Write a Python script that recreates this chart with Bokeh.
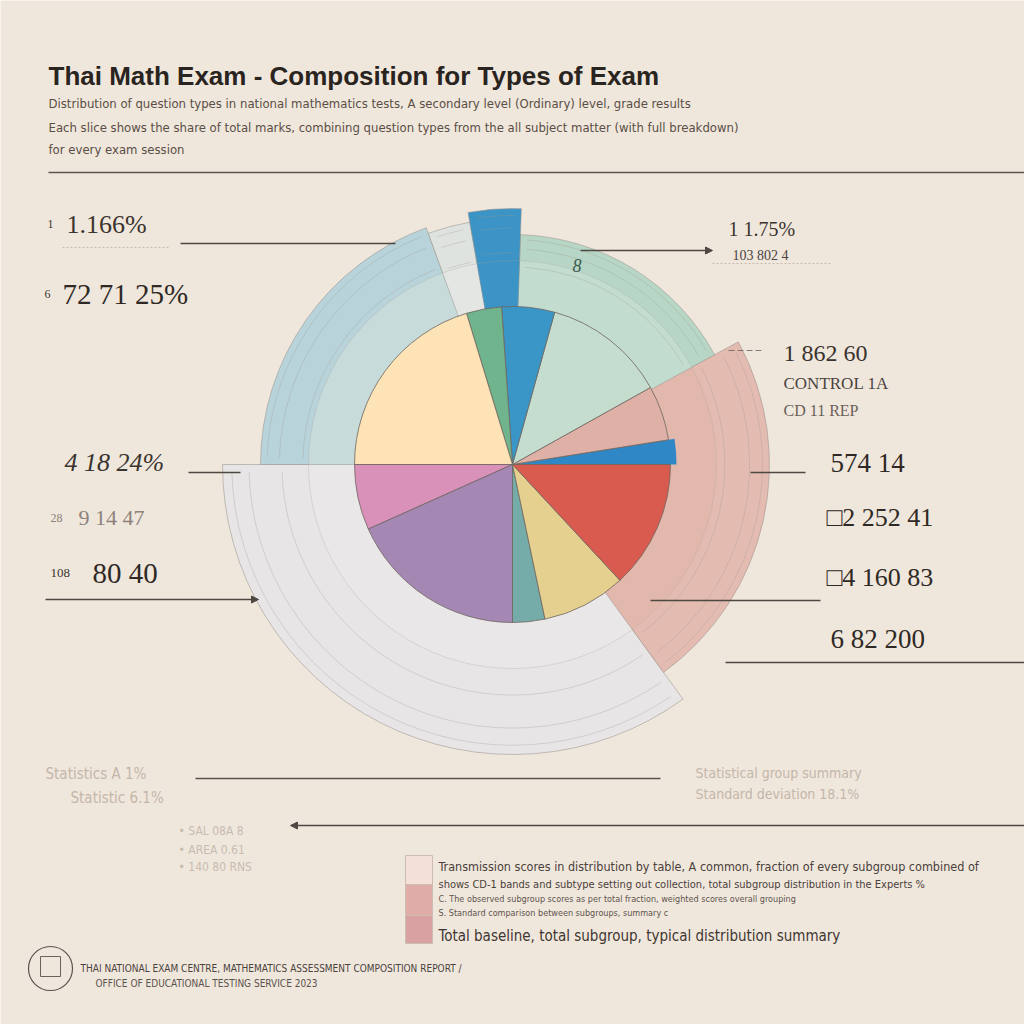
import numpy as np
from bokeh.plotting import figure
from bokeh.models import Range1d, Arrow, NormalHead
from bokeh.core.properties import value
from bokeh.embed import file_html
from bokeh.resources import INLINE

# ---------------- data ----------------
title_text = "Thai Math Exam - Composition for Types of Exam"
subtitle_lines = [
    "Distribution of question types in national mathematics tests, A secondary level (Ordinary) level, grade results",
    "Each slice shows the share of total marks, combining question types from the all subject matter (with full breakdown)",
    "for every exam session",
]

inner_types = ["Vectors", "Ratio", "Algebra", "Number", "Logic", "Geometry",
               "Sets", "Functions", "Sequences", "Probability", "Calculus"]
inner_share = [2.5, 5.6, 12.6, 5.4, 3.6, 20.3, 6.7, 18.3, 3.3, 8.6, 13.1]
inner_colors = ["#2f87c6", "#dfb0a6", "#c4ddcf", "#3a96c6", "#6fb48c", "#fde3b5",
                "#d990b9", "#a487b3", "#75aba8", "#e6d08f", "#d95b4f"]

outer_groups = ["Part D", "Part A", "Part B", "Part C", "Part E", "Part F"]
outer_share = [22.92, 16.53, 3.33, 2.78, 19.44, 35.0]
outer_colors = ["#e4bbb0", "#b7d6c6", "#3b94c5", "#dfe3df", "#b9d3da", "#e8e5e6"]
outer_inner_colors = ["#e2b7ac", "#c2dccf", "#3b94c5", "#e3e6e2", "#c7dbdb", "#e9e7e8"]
outer_start_deg = -54.0

left_labels = ["1.166%", "72 71 25%", "4 18 24%", "9 14 47", "80 40"]
left_small = ["1", "6", "", "28", "108"]
right_labels = ["1 1.75%", "1 862 60", "574 14", "2 252 41", "4 160 83", "6 82 200"]
right_sub = ["103 802 4", "CONTROL 1A", "CD 11 REP"]
bottom_notes = ["Statistics A 1%", "Statistic 6.1%"]
bottom_right_notes = ["Statistical group summary", "Standard deviation 18.1%"]
bottom_small = ["• SAL 08A  8", "• AREA 0.61", "• 140 80 RNS"]
legend_lines = [
    "Transmission  scores in distribution by table, A common, fraction of every subgroup combined  of",
    "shows CD-1 bands and subtype setting out collection, total subgroup distribution in the Experts %",
    "C. The  observed subgroup scores as per total fraction, weighted scores overall grouping",
    "S. Standard comparison between subgroups, summary  c",
    "Total baseline, total subgroup, typical distribution summary",
]
legend_colors = ["#f3e0d6", "#dfaca8", "#d9a2a2"]
footer_lines = ["THAI NATIONAL EXAM CENTRE, MATHEMATICS ASSESSMENT COMPOSITION REPORT /",
                "OFFICE OF EDUCATIONAL TESTING SERVICE 2023"]

# ---------------- figure ----------------
W = H = 1024
BG = "#f0e7dc"
p = figure(width=W, height=H, x_range=Range1d(0, W), y_range=Range1d(0, H),
           output_backend="svg", toolbar_location=None, min_border=0,
           background_fill_color=BG, border_fill_color=BG, outline_line_color=None)
p.axis.visible = False
p.grid.visible = False


def X(px):
    return px


def Y(py):
    return H - py


def txt(px, py, s, size, color="#2f2925", font="Liberation Sans", style="normal",
        align="left", alpha=1.0):
    p.text(x=[X(px)], y=[Y(py)], text=[s], text_font=value(font),
           text_font_size=value(f"{size}px"), text_color=color, text_alpha=alpha,
           text_font_style=style, text_align=align, text_baseline="middle")


def hline(x0, x1, py, color="#5a524c", width=1.3, alpha=1.0, dash="solid"):
    p.segment(x0=[X(x0)], y0=[Y(py)], x1=[X(x1)], y1=[Y(py)], line_color=color,
              line_width=width, line_alpha=alpha, line_dash=dash)


cx, cy = X(512), Y(464)
R_IN = 158

# outer ring
outer_radii = [257, 230, 256, 246, 252, 290]
spans = np.array(outer_share) / 100.0 * 2 * np.pi
starts = np.deg2rad(outer_start_deg) + np.concatenate([[0], np.cumsum(spans)[:-1]])
ends = starts + spans
order = [5, 0, 4, 3, 1, 2]
for i in order:
    p.annular_wedge(x=[cx], y=[cy], inner_radius=R_IN - 2, outer_radius=outer_radii[i],
                    start_angle=[starts[i]], end_angle=[ends[i]],
                    fill_color=outer_colors[i], line_color="#9b9590", line_width=0.8,
                    line_alpha=0.7)
    # lighter inner band
    p.annular_wedge(x=[cx], y=[cy], inner_radius=R_IN - 2, outer_radius=R_IN + 46,
                    start_angle=[starts[i]], end_angle=[ends[i]],
                    fill_color=outer_inner_colors[i], line_color="#a9a4a0", line_width=0.6,
                    line_alpha=0.5)
    # nested guide arcs
    for frac in (0.55, 0.8, 0.93):
        r = R_IN + frac * (outer_radii[i] - R_IN)
        p.arc(x=[cx], y=[cy], radius=r, start_angle=[starts[i] + 0.03], end_angle=[ends[i] - 0.03],
              line_color="#9d9894", line_width=0.7, line_alpha=0.45)

# inner pie
ispan = np.array(inner_share) / 100.0 * 2 * np.pi
istart = np.concatenate([[0], np.cumsum(ispan)[:-1]])
iend = istart + ispan
p.wedge(x=[cx] * len(inner_share), y=[cy] * len(inner_share), radius=R_IN,
        start_angle=istart, end_angle=iend, fill_color=inner_colors,
        line_color="#6e6660", line_width=0.8)
# extend the thin blue slice to the ring edge
p.annular_wedge(x=[cx], y=[cy], inner_radius=R_IN - 1, outer_radius=R_IN + 6,
                start_angle=[istart[0]], end_angle=[iend[0]], fill_color=inner_colors[0],
                line_color=None)

# ---------------- text ----------------
txt(48, 75, title_text, 26, "#2a2420", "Liberation Sans", "bold")
sub_y = [103, 127, 149]
for s, yy in zip(subtitle_lines, sub_y):
    txt(48, yy, s, 13, "#5a4e46", "DejaVu Sans Condensed")
hline(48, 1024, 172, "#5c5550", 1.3)

# left labels
txt(47, 223, left_small[0], 12, "#3a332e", "Liberation Serif")
txt(66, 224, left_labels[0], 26, "#3a332e", "Liberation Serif")
hline(62, 170, 247, "#b9afa5", 1, 0.8, "2 2")
hline(180, 395, 243, "#4e4742", 1.3)
txt(44, 293, left_small[1], 12, "#3a332e", "Liberation Serif")
txt(62, 293, left_labels[1], 29, "#2f2925", "Liberation Serif")
txt(64, 462, left_labels[2], 26, "#3a332e", "Liberation Serif", "italic")
hline(188, 240, 472, "#4e4742", 1.3)
txt(50, 517, left_small[3], 12, "#8c827a", "Liberation Serif")
txt(78, 517, left_labels[3], 22, "#8c827a", "Liberation Serif")
txt(50, 572, left_small[4], 13, "#3a332e", "Liberation Serif")
txt(92, 572, left_labels[4], 29, "#2f2925", "Liberation Serif")
p.add_layout(Arrow(end=NormalHead(size=7, fill_color="#4e4742", line_color="#4e4742"),
                   x_start=X(45), y_start=Y(599), x_end=X(258), y_end=Y(599),
                   line_color="#4e4742", line_width=1.3))

# right labels
p.add_layout(Arrow(end=NormalHead(size=7, fill_color="#4e4742", line_color="#4e4742"),
                   x_start=X(580), y_start=Y(250), x_end=X(712), y_end=Y(250),
                   line_color="#4e4742", line_width=1.3))
txt(728, 228, right_labels[0], 20, "#3a332e", "Liberation Serif")
txt(732, 255, right_sub[0], 14, "#4a433e", "Liberation Serif")
hline(712, 832, 263, "#b9afa5", 1, 0.8, "2 2")
hline(728, 762, 350, "#6a625c", 1.2, 0.8, "6 3")
txt(783, 352, right_labels[1], 24, "#3a332e", "Liberation Serif")
txt(783, 383, right_sub[1], 17, "#4a433e", "Liberation Serif")
txt(783, 410, right_sub[2], 16, "#6a615a", "Liberation Serif")
hline(750, 805, 472, "#4e4742", 1.3)
txt(830, 462, right_labels[2], 27, "#2f2925", "Liberation Serif")
txt(826, 517, "\u25a1" + right_labels[3], 26, "#2f2925", "Liberation Serif")
hline(650, 820, 600, "#4e4742", 1.3)
txt(826, 577, "\u25a1" + right_labels[4], 26, "#2f2925", "Liberation Serif")
txt(830, 638, right_labels[5], 27, "#2f2925", "Liberation Serif")
hline(725, 1024, 662, "#4e4742", 1.3)
txt(572, 265, "8", 18, "#3f5a4f", "Liberation Serif", "italic")

# bottom notes
txt(45, 773, bottom_notes[0], 15, "#c4b6aa", "DejaVu Sans Condensed")
txt(70, 797, bottom_notes[1], 15, "#c4b6aa", "DejaVu Sans Condensed")
hline(195, 660, 778, "#5a524c", 1.5)
txt(695, 772, bottom_right_notes[0], 14, "#c4b6aa", "DejaVu Sans Condensed")
txt(695, 793, bottom_right_notes[1], 14, "#c4b6aa", "DejaVu Sans Condensed")
p.add_layout(Arrow(end=NormalHead(size=7, fill_color="#4e4742", line_color="#4e4742"),
                   x_start=X(1024), y_start=Y(825), x_end=X(290), y_end=Y(825),
                   line_color="#4e4742", line_width=1.5))
for s, yy in zip(bottom_small, [830, 849, 866]):
    txt(178, yy, s, 12, "#c8bbb0", "DejaVu Sans Condensed")

# legend
sw_top = [855, 884, 915]
sw_bot = [884, 915, 943]
p.quad(left=[X(405)] * 3, right=[X(432)] * 3, top=[Y(t) for t in sw_top],
       bottom=[Y(b) for b in sw_bot], fill_color=legend_colors, line_color="#cdbdb3",
       line_width=1)
leg_y = [866, 884, 898, 912, 935]
leg_size = [12.5, 11, 9, 9, 15]
leg_col = ["#4a403b", "#4a403b", "#5e544e", "#5e544e", "#3f3632"]
for s, yy, sz, c in zip(legend_lines, leg_y, leg_size, leg_col):
    txt(438, yy, s, sz, c, "DejaVu Sans Condensed")

# footer
p.scatter(x=[X(50)], y=[Y(968)], size=44, marker="circle", fill_color=None,
          line_color="#5a524c", line_width=1.2)
p.scatter(x=[X(50)], y=[Y(966)], size=20, marker="square", fill_color=None,
          line_color="#6a625c", line_width=1)
txt(80, 968, footer_lines[0], 10, "#4a423d", "DejaVu Sans Condensed")
txt(95, 983, footer_lines[1], 10, "#5a524c", "DejaVu Sans Condensed")

open("out.html", "w").write(file_html(p, INLINE))
